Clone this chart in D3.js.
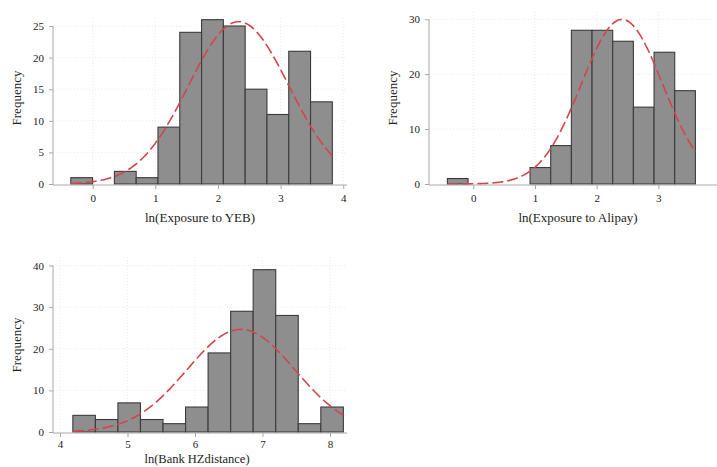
<!DOCTYPE html>
<html>
<head>
<meta charset="utf-8">
<script src="https://cdn.jsdelivr.net/npm/d3@7"></script>
<style>
  html, body { margin: 0; padding: 0; background: #fff; }
  svg { display: block; }
  text { font-family: "Liberation Serif", "DejaVu Serif", serif; fill: #222; }
</style>
</head>
<body>
<svg id="chart" width="717" height="467"></svg>
<script>
// Histogram counts (12 equal-width bins per variable)
const yebCounts = [1, 0, 2, 1, 9, 24, 26, 25, 15, 11, 21, 13];
const yebBinStart = -0.35, yebBinWidth = 0.348;
const yebMean = 2.33, yebSd = 0.80;

const alipayCounts = [1, 0, 0, 0, 3, 7, 28, 28, 26, 14, 24, 17];
const alipayBinStart = -0.42, alipayBinWidth = 0.335;
const alipayMean = 2.41, alipaySd = 0.66;

const bankCounts = [4, 3, 7, 3, 2, 6, 19, 29, 39, 28, 2, 6];
const bankBinStart = 4.19, bankBinWidth = 0.334;
const bankMean = 6.68, bankSd = 0.80;

// Axis ticks and titles
const yebXTicks = [0, 1, 2, 3, 4];
const yebYTicks = [0, 5, 10, 15, 20, 25];
const alipayXTicks = [0, 1, 2, 3];
const alipayYTicks = [0, 10, 20, 30];
const bankXTicks = [4, 5, 6, 7, 8];
const bankYTicks = [0, 10, 20, 30, 40];
const xTitles = ["ln(Exposure to YEB)", "ln(Exposure to Alipay)", "ln(Bank HZdistance)"];
const yTitle = "Frequency";

const svg = d3.select("#chart");

function panel(cfg) {
  const g = svg.append("g");
  const x = d3.scaleLinear().domain(cfg.xDomain).range(cfg.xRange);
  const y = d3.scaleLinear().domain(cfg.yDomain).range(cfg.yRange);
  const x0 = cfg.xRange[0];
  const yBase = y(0);
  const yTop = y(cfg.yTicks[cfg.yTicks.length - 1]);
  const xEnd = cfg.xRange[1];

  // faint dotted grid
  g.selectAll(".hgrid").data(cfg.yTicks.filter(d => d > 0)).join("line")
    .attr("x1", x0).attr("x2", xEnd)
    .attr("y1", d => y(d)).attr("y2", d => y(d))
    .attr("stroke", "#e6e6e6").attr("stroke-width", 0.8).attr("stroke-dasharray", "1,2");
  g.selectAll(".vgrid").data(cfg.xTicks).join("line")
    .attr("x1", d => x(d)).attr("x2", d => x(d))
    .attr("y1", yBase).attr("y2", yTop - 8)
    .attr("stroke", "#e6e6e6").attr("stroke-width", 0.8).attr("stroke-dasharray", "1,2");

  // histogram bars
  const bins = cfg.counts.map((c, i) => ({
    x0: cfg.binStart + i * cfg.binWidth,
    x1: cfg.binStart + (i + 1) * cfg.binWidth,
    c
  })).filter(b => b.c > 0);
  g.selectAll(".bar").data(bins).join("rect")
    .attr("x", d => x(d.x0))
    .attr("width", d => x(d.x1) - x(d.x0))
    .attr("y", d => y(d.c))
    .attr("height", d => yBase - y(d.c))
    .attr("fill", "#8e8e8e")
    .attr("stroke", "#3b3b3b")
    .attr("stroke-width", 1.1);

  // normal density overlay scaled to frequency
  const n = d3.sum(cfg.counts);
  const lo = cfg.binStart, hi = cfg.binStart + cfg.counts.length * cfg.binWidth;
  const pts = d3.range(0, 201).map(i => {
    const v = lo + (hi - lo) * i / 200;
    const z = (v - cfg.mean) / cfg.sd;
    return [v, n * cfg.binWidth * Math.exp(-0.5 * z * z) / (cfg.sd * Math.sqrt(2 * Math.PI))];
  });
  g.append("path")
    .attr("d", d3.line().x(d => x(d[0])).y(d => y(d[1]))(pts))
    .attr("fill", "none")
    .attr("stroke", "#d2464b")
    .attr("stroke-width", 1.6)
    .attr("stroke-dasharray", "11,4");

  // axes
  const xAxis = g.append("g").attr("transform", `translate(0,${yBase + 1})`)
    .call(d3.axisBottom(x).tickValues(cfg.xTicks).tickSize(4).tickPadding(cfg.xPad).tickFormat(d3.format("d")));
  xAxis.select(".domain").attr("d", `M${x0},0H${xEnd}`).attr("stroke", "#a8a8a8");
  xAxis.selectAll(".tick line").attr("stroke", "#a8a8a8");
  xAxis.selectAll("text").attr("font-size", 11).attr("fill", "#222");

  const yAxis = g.append("g").attr("transform", `translate(${x0},0)`)
    .call(d3.axisLeft(y).tickValues(cfg.yTicks).tickSize(4).tickPadding(5).tickFormat(d3.format("d")));
  yAxis.select(".domain").attr("d", `M0,${yTop}V${yBase + 1}`).attr("stroke", "#a8a8a8");
  yAxis.selectAll(".tick line").attr("stroke", "#a8a8a8");
  yAxis.selectAll("text").attr("font-size", 11).attr("fill", "#222");

  // titles
  g.append("text")
    .attr("x", cfg.xTitlePos[0]).attr("y", cfg.xTitlePos[1])
    .attr("text-anchor", "middle").attr("font-size", cfg.xTitleSize)
    .text(cfg.xTitle);
  g.append("text")
    .attr("transform", `translate(${cfg.yTitlePos[0]},${cfg.yTitlePos[1]}) rotate(-90)`)
    .attr("text-anchor", "middle").attr("font-size", 13)
    .text(yTitle);
}

panel({
  counts: yebCounts, binStart: yebBinStart, binWidth: yebBinWidth, mean: yebMean, sd: yebSd,
  xDomain: [-0.634, 4.06], xRange: [53, 347],
  yDomain: [0, 25], yRange: [184, 26],
  xTicks: yebXTicks, yTicks: yebYTicks, xPad: 5,
  xTitle: xTitles[0], xTitlePos: [200, 222], xTitleSize: 13, yTitlePos: [21, 98]
});

panel({
  counts: alipayCounts, binStart: alipayBinStart, binWidth: alipayBinWidth, mean: alipayMean, sd: alipaySd,
  xDomain: [-0.718, 4.08], xRange: [429, 725],
  yDomain: [0, 30], yRange: [184, 19.3],
  xTicks: alipayXTicks, yTicks: alipayYTicks, xPad: 5,
  xTitle: xTitles[1], xTitlePos: [578, 222], xTitleSize: 13, yTitlePos: [397, 98]
});

panel({
  counts: bankCounts, binStart: bankBinStart, binWidth: bankBinWidth, mean: bankMean, sd: bankSd,
  xDomain: [3.896, 8.252], xRange: [53, 347],
  yDomain: [0, 40], yRange: [432, 265.5],
  xTicks: bankXTicks, yTicks: bankYTicks, xPad: 3,
  xTitle: xTitles[2], xTitlePos: [197, 463], xTitleSize: 12.5, yTitlePos: [21, 345]
});
</script>
</body>
</html>
